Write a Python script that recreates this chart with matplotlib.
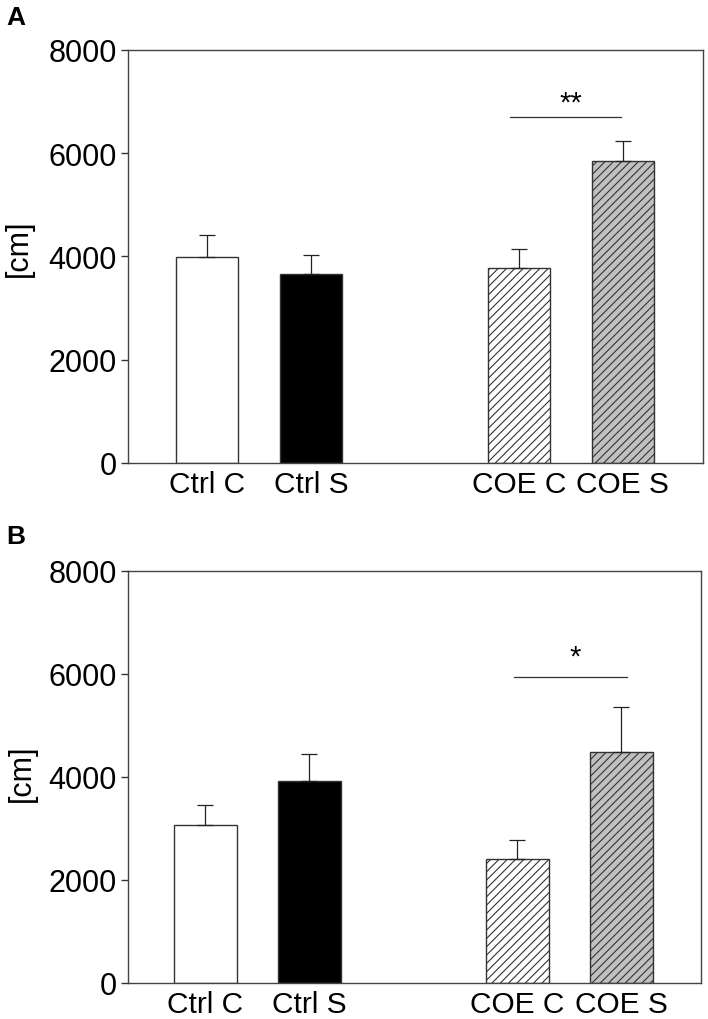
import numpy as np
import matplotlib
matplotlib.use('Agg')
import matplotlib.pyplot as plt

plt.rcParams['font.family'] = ['Liberation Sans', 'DejaVu Sans']
plt.rcParams['hatch.linewidth'] = 0.8
plt.rcParams['hatch.color'] = '#222222'

groups = ['Ctrl C', 'Ctrl S', 'COE C', 'COE S']
xpos = [0, 1, 3, 4]

# panel A
means_a = [3990, 3660, 3780, 5850]
err_a = [425, 370, 365, 390]
# panel B
means_b = [3070, 3920, 2410, 4490]
err_b = [390, 525, 370, 870]

fills = ['white', 'black', 'white', '#c0c0c0']
hatches = ['', '', '////', '////']
yticks = [0, 2000, 4000, 6000, 8000]

fig = plt.figure(figsize=(7.08, 10.2), dpi=100)
ax_a = fig.add_axes([0.1808, 0.5451, 0.812, 0.405])
ax_b = fig.add_axes([0.1808, 0.0353, 0.809, 0.404])


def draw(ax, means, errs, sig_x, sig_y, star_y, stars, xlim):
    for x, m, c, h in zip(xpos, means, fills, hatches):
        ax.bar(x, m, width=0.6, color=c, edgecolor='#333333', linewidth=1.0,
               hatch=h, zorder=2)
    ax.errorbar(xpos, means, yerr=[np.zeros(len(errs)), errs], fmt='none',
                ecolor='#222222', elinewidth=0.9, capsize=6, capthick=0.9, zorder=3)
    ax.plot(sig_x, [sig_y, sig_y], color='#333333', linewidth=0.9)
    ax.text(np.mean(sig_x) + 0.05, star_y, stars, ha='center', va='baseline', fontsize=21)
    ax.set_xlim(*xlim)
    ax.set_ylim(0, 8000)
    ax.set_yticks(yticks)
    ax.set_yticklabels([str(t) for t in yticks], fontsize=22)
    ax.set_xticks(xpos)
    ax.set_xticklabels(groups, fontsize=21.5)
    ax.tick_params(axis='x', length=0, pad=5)
    ax.tick_params(axis='y', direction='out', length=5, width=1, pad=3, color='#333333')
    for s in ax.spines.values():
        s.set_color('#444444')
        s.set_linewidth(1.0)


draw(ax_a, means_a, err_a, [2.91, 3.98], 6700, 6820, '**', (-0.76, 4.77))
draw(ax_b, means_b, err_b, [2.97, 4.05], 5940, 6180, '*', (-0.745, 4.764))

fig.text(19 / 708, 0.757, '[cm]', rotation=90, ha='center', va='center', fontsize=22)
fig.text(22 / 708, 0.242, '[cm]', rotation=90, ha='center', va='center', fontsize=22)
fig.text(6 / 708, 1 - 6 / 1020, 'A', ha='left', va='top', fontsize=19, fontweight='bold')
fig.text(6 / 708, 1 - 525 / 1020, 'B', ha='left', va='top', fontsize=19, fontweight='bold')

fig.savefig('out.png', dpi=100)
